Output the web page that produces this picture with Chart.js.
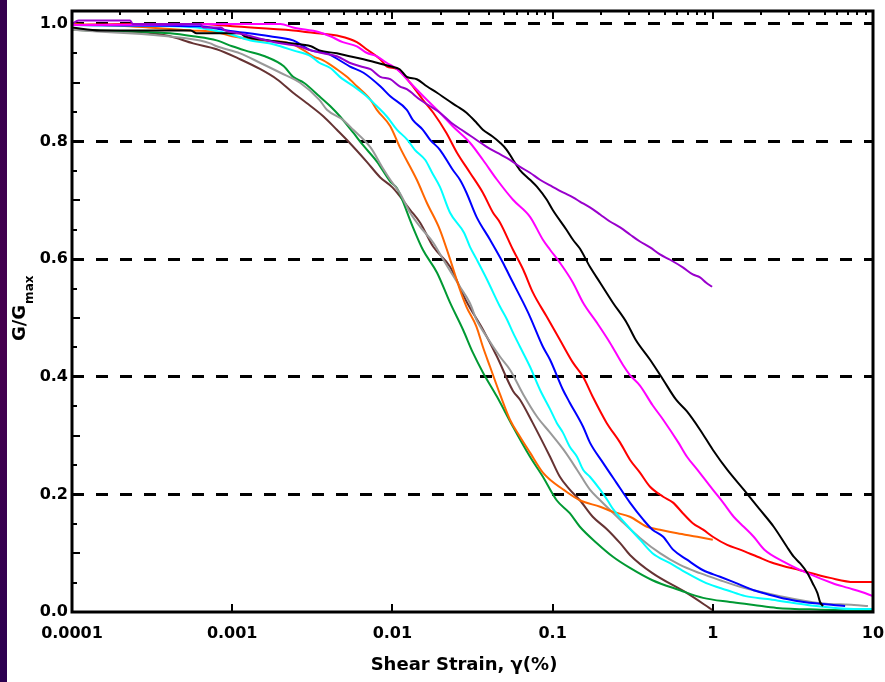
<!DOCTYPE html>
<html lang="pt-BR">
<head>
<meta charset="utf-8">
<title>G/Gmax x Shear Strain</title>
<script src="https://cdn.jsdelivr.net/npm/chart.js@4"></script>
<style>
    html, body { margin: 0; padding: 0; background: #ffffff; }
    #grafico { display: block; }
</style>
</head>
<body>
<canvas id="grafico" width="885" height="682"></canvas>
<script>
// Curvas: [deformação cisalhante (%), G/Gmax]
const curvaMarrom = [[0.0001,0.99],[0.0003,0.985],[0.00041,0.979],[0.00057,0.967],[0.0008,0.957],[0.00112,0.94],[0.0015,0.923],[0.0019,0.906],[0.0024,0.883],[0.0029,0.866],[0.0037,0.843],[0.0045,0.82],[0.0054,0.798],[0.0069,0.766],[0.0084,0.739],[0.01,0.722],[0.0129,0.684],[0.0149,0.662],[0.018,0.621],[0.0229,0.587],[0.029,0.528],[0.0368,0.48],[0.045,0.434],[0.0566,0.376],[0.0626,0.361],[0.075,0.322],[0.0964,0.264],[0.111,0.23],[0.128,0.208],[0.148,0.19],[0.178,0.162],[0.22,0.14],[0.264,0.117],[0.304,0.097],[0.42,0.066],[0.69,0.032],[1.0,0.003]];
const curvaVerde = [[0.0001,0.99],[0.00041,0.984],[0.00057,0.979],[0.0008,0.972],[0.001,0.962],[0.0012,0.955],[0.0016,0.945],[0.0021,0.928],[0.0024,0.91],[0.0028,0.9],[0.0035,0.877],[0.0041,0.86],[0.0047,0.843],[0.0057,0.815],[0.0065,0.795],[0.008,0.766],[0.0097,0.732],[0.0107,0.72],[0.0134,0.655],[0.0155,0.616],[0.019,0.577],[0.0229,0.526],[0.0276,0.48],[0.0318,0.441],[0.0368,0.407],[0.045,0.366],[0.0566,0.315],[0.0723,0.264],[0.087,0.23],[0.106,0.19],[0.128,0.168],[0.148,0.145],[0.189,0.117],[0.238,0.094],[0.304,0.075],[0.42,0.054],[0.624,0.037],[0.87,0.024],[1.28,0.017],[1.8,0.012],[2.5,0.007],[4.7,0.004],[10,0.002]];
const curvaCinza = [[0.0001,0.99],[0.00063,0.972],[0.00073,0.967],[0.0008,0.962],[0.00112,0.95],[0.00149,0.934],[0.002,0.917],[0.00265,0.9],[0.0035,0.871],[0.0039,0.854],[0.0049,0.837],[0.0057,0.82],[0.0073,0.79],[0.0087,0.755],[0.0097,0.735],[0.0111,0.713],[0.0129,0.679],[0.0149,0.655],[0.018,0.628],[0.0207,0.6],[0.0264,0.553],[0.0305,0.525],[0.0335,0.497],[0.0388,0.468],[0.047,0.434],[0.0542,0.412],[0.0656,0.37],[0.08,0.332],[0.0964,0.305],[0.117,0.276],[0.142,0.242],[0.171,0.208],[0.198,0.19],[0.264,0.157],[0.351,0.126],[0.468,0.1],[0.624,0.08],[0.832,0.066],[1.11,0.054],[1.48,0.043],[2.63,0.027],[4.67,0.015],[7.6,0.012],[9.3,0.01]];
const curvaLaranja = [[0.0001,1.0],[0.0002,0.997],[0.0003,0.994],[0.00055,0.989],[0.0008,0.986],[0.001,0.979],[0.0015,0.972],[0.0023,0.967],[0.0028,0.955],[0.0032,0.945],[0.0037,0.938],[0.0045,0.923],[0.0052,0.91],[0.006,0.894],[0.0073,0.871],[0.008,0.854],[0.0097,0.826],[0.0111,0.791],[0.0142,0.735],[0.0164,0.696],[0.0198,0.65],[0.0229,0.6],[0.0264,0.548],[0.029,0.519],[0.0335,0.485],[0.0367,0.451],[0.0407,0.417],[0.047,0.37],[0.0542,0.327],[0.0626,0.298],[0.0723,0.271],[0.087,0.237],[0.0964,0.225],[0.117,0.208],[0.148,0.19],[0.198,0.179],[0.24,0.17],[0.304,0.162],[0.388,0.145],[0.468,0.14],[0.6,0.134],[0.8,0.128],[1.0,0.123]];
const curvaCiano = [[0.0001,0.998],[0.00055,0.995],[0.0009,0.985],[0.0013,0.972],[0.0017,0.967],[0.002,0.962],[0.0024,0.955],[0.0031,0.945],[0.0035,0.934],[0.0041,0.925],[0.0047,0.91],[0.006,0.89],[0.0069,0.877],[0.008,0.86],[0.0092,0.843],[0.0107,0.82],[0.0124,0.803],[0.0138,0.786],[0.016,0.769],[0.0177,0.747],[0.0198,0.723],[0.0229,0.679],[0.028,0.645],[0.0305,0.621],[0.0335,0.6],[0.039,0.565],[0.047,0.519],[0.052,0.497],[0.0566,0.475],[0.0626,0.451],[0.0723,0.417],[0.0834,0.378],[0.0964,0.345],[0.106,0.322],[0.116,0.305],[0.128,0.281],[0.142,0.264],[0.155,0.242],[0.171,0.23],[0.198,0.208],[0.22,0.19],[0.24,0.174],[0.29,0.148],[0.351,0.123],[0.42,0.1],[0.541,0.083],[0.69,0.066],[0.91,0.049],[1.23,0.037],[1.6,0.027],[2.2,0.022],[2.9,0.017],[3.9,0.012],[7.6,0.005],[10,0.005]];
const curvaAzul = [[0.0001,0.998],[0.00063,0.996],[0.00093,0.989],[0.00172,0.979],[0.0024,0.972],[0.0031,0.955],[0.0039,0.95],[0.0054,0.928],[0.0066,0.917],[0.0084,0.894],[0.0097,0.877],[0.0123,0.854],[0.0134,0.837],[0.0155,0.82],[0.0172,0.803],[0.0198,0.786],[0.0238,0.752],[0.0264,0.735],[0.029,0.713],[0.0335,0.672],[0.0407,0.633],[0.049,0.594],[0.0542,0.57],[0.0656,0.526],[0.0723,0.502],[0.087,0.451],[0.0964,0.429],[0.116,0.378],[0.128,0.356],[0.155,0.315],[0.171,0.288],[0.206,0.254],[0.25,0.22],[0.304,0.186],[0.368,0.157],[0.42,0.14],[0.49,0.128],[0.565,0.106],[0.69,0.089],[0.87,0.071],[1.11,0.06],[1.4,0.049],[1.8,0.037],[2.28,0.029],[2.9,0.022],[3.7,0.017],[6.7,0.01]];
const curvaVermelha = [[0.0001,0.998],[0.00023,1.0],[0.00063,1.0],[0.001,0.996],[0.0024,0.989],[0.0034,0.984],[0.0047,0.979],[0.006,0.969],[0.0069,0.957],[0.0084,0.94],[0.0092,0.928],[0.0107,0.923],[0.0129,0.9],[0.0155,0.871],[0.018,0.849],[0.0217,0.815],[0.0253,0.781],[0.0305,0.747],[0.0367,0.713],[0.0425,0.679],[0.047,0.662],[0.0566,0.616],[0.0656,0.582],[0.0754,0.543],[0.092,0.502],[0.111,0.463],[0.134,0.424],[0.155,0.4],[0.178,0.366],[0.217,0.322],[0.264,0.288],[0.304,0.259],[0.351,0.237],[0.406,0.213],[0.49,0.196],[0.565,0.186],[0.65,0.168],[0.75,0.151],[0.87,0.14],[1.0,0.128],[1.23,0.114],[1.48,0.106],[1.9,0.094],[2.4,0.083],[3.5,0.071],[5.4,0.058],[7.6,0.051],[10,0.051]];
const curvaMagenta = [[0.0001,0.998],[0.001,1.0],[0.002,1.0],[0.0024,0.994],[0.0035,0.986],[0.0041,0.979],[0.0049,0.969],[0.006,0.962],[0.0069,0.951],[0.008,0.945],[0.0092,0.934],[0.0107,0.923],[0.0129,0.9],[0.0164,0.871],[0.0198,0.849],[0.0238,0.826],[0.0305,0.798],[0.0367,0.769],[0.045,0.735],[0.0566,0.701],[0.0723,0.672],[0.087,0.633],[0.0964,0.616],[0.111,0.594],[0.134,0.56],[0.155,0.526],[0.189,0.492],[0.228,0.458],[0.275,0.42],[0.304,0.403],[0.351,0.385],[0.42,0.352],[0.49,0.327],[0.61,0.288],[0.69,0.264],[0.8,0.242],[1.0,0.208],[1.16,0.186],[1.35,0.162],[1.56,0.145],[1.8,0.128],[2.1,0.106],[2.8,0.085],[3.9,0.066],[5.6,0.049],[7.0,0.041],[8.5,0.034],[10,0.027]];
const curvaPreta = [[0.0001,0.994],[0.00015,0.989],[0.00055,0.989],[0.0006,0.984],[0.00112,0.984],[0.0012,0.979],[0.0017,0.972],[0.0023,0.967],[0.0031,0.962],[0.0035,0.955],[0.0045,0.95],[0.0054,0.945],[0.0066,0.94],[0.008,0.934],[0.0097,0.928],[0.0111,0.923],[0.0123,0.91],[0.0142,0.906],[0.0164,0.894],[0.019,0.883],[0.022,0.871],[0.0253,0.86],[0.029,0.849],[0.0335,0.832],[0.0367,0.82],[0.042,0.809],[0.047,0.798],[0.0517,0.786],[0.0566,0.769],[0.0623,0.752],[0.0723,0.735],[0.08,0.723],[0.092,0.701],[0.1,0.684],[0.122,0.65],[0.134,0.633],[0.148,0.618],[0.171,0.587],[0.198,0.56],[0.238,0.526],[0.29,0.492],[0.33,0.463],[0.406,0.429],[0.49,0.395],[0.59,0.361],[0.69,0.341],[0.832,0.31],[1.0,0.276],[1.23,0.242],[1.56,0.208],[1.97,0.174],[2.4,0.145],[2.9,0.111],[3.2,0.094],[3.5,0.083],[3.9,0.066],[4.2,0.049],[4.5,0.032],[4.67,0.017],[4.87,0.01]];
const curvaRoxa = [[0.0001,1.0],[0.00011,1.006],[0.00023,1.006],[0.00024,1.0],[0.00063,1.0],[0.00066,0.994],[0.00085,0.994],[0.0009,0.989],[0.0011,0.984],[0.002,0.967],[0.0026,0.962],[0.0031,0.955],[0.0037,0.95],[0.0045,0.945],[0.0054,0.934],[0.0063,0.928],[0.0073,0.923],[0.0084,0.91],[0.0097,0.906],[0.0111,0.894],[0.0123,0.889],[0.0149,0.871],[0.0172,0.86],[0.0198,0.849],[0.0233,0.832],[0.027,0.82],[0.031,0.809],[0.0388,0.791],[0.045,0.781],[0.0542,0.769],[0.0626,0.757],[0.0723,0.747],[0.0834,0.735],[0.1,0.723],[0.117,0.713],[0.134,0.705],[0.148,0.698],[0.171,0.688],[0.198,0.676],[0.228,0.664],[0.264,0.654],[0.304,0.642],[0.351,0.63],[0.406,0.62],[0.468,0.608],[0.541,0.599],[0.65,0.586],[0.75,0.574],[0.832,0.569],[0.91,0.56],[0.99,0.553]];

const curvas = [curvaRoxa, curvaPreta, curvaMagenta, curvaVermelha, curvaAzul, curvaCiano, curvaLaranja, curvaCinza, curvaVerde, curvaMarrom];
const coresCurvas = ['#9900cc', '#000000', '#ff00ff', '#ff0000', '#0000ff', '#00ffff', '#ff6600', '#999999', '#009933', '#663333'];

// Eixos
const ticksX = [0.0001, 0.001, 0.01, 0.1, 1, 10];
const rotulosX = ['0.0001', '0.001', '0.01', '0.1', '1', '10'];
const ticksY = [0, 0.2, 0.4, 0.6, 0.8, 1.0];
const tituloX = 'Shear Strain, γ(%)';
const fonteEixo = { family: 'DejaVu Sans', size: 16, weight: 'bold' };

// Moldura, marcas internas e títulos dos eixos
const pluginMoldura = {
    id: 'moldura',
    beforeDraw(chart) {
        const ctx = chart.ctx;
        ctx.save();
        ctx.fillStyle = '#ffffff';
        ctx.fillRect(0, 0, chart.width, chart.height);
        const faixa = ctx.createLinearGradient(0, 0, 0, chart.height);
        faixa.addColorStop(0, '#34004e');
        faixa.addColorStop(0.5, '#46004f');
        faixa.addColorStop(1, '#2b0050');
        ctx.fillStyle = faixa;
        ctx.fillRect(0, 0, 7, chart.height);
        ctx.restore();
    },
    afterDraw(chart) {
        const { ctx, chartArea: a, scales: { x, y } } = chart;
        ctx.save();
        ctx.strokeStyle = '#000000';
        ctx.lineWidth = 3;
        ctx.strokeRect(a.left, a.top, a.right - a.left, a.bottom - a.top);

        ctx.lineWidth = 2;
        ctx.beginPath();
        // marcas do eixo Y a cada 0.05
        for (let i = 1; i <= 20; i++) {
            if (i % 4 === 0) continue;
            const py = Math.round(y.getPixelForValue(i * 0.05));
            const tam = i % 2 === 0 ? 8 : 5;
            ctx.moveTo(a.left, py);
            ctx.lineTo(a.left + tam, py);
        }
        // marcas logarítmicas no topo
        for (let k = -4; k <= 0; k++) {
            for (let m = 1; m <= 9; m++) {
                if (k === -4 && m === 1) continue;
                const px = Math.round(x.getPixelForValue(m * Math.pow(10, k)));
                const tam = m === 1 ? 8 : 4;
                ctx.moveTo(px, a.top);
                ctx.lineTo(px, a.top + tam);
            }
        }
        // marcas das décadas embaixo
        ticksX.slice(1, -1).forEach(v => {
            const px = Math.round(x.getPixelForValue(v));
            ctx.moveTo(px, a.bottom);
            ctx.lineTo(px, a.bottom - 8);
        });
        ctx.stroke();

        // título do eixo X
        ctx.fillStyle = '#000000';
        ctx.font = 'bold 18px "DejaVu Sans"';
        ctx.textAlign = 'center';
        ctx.textBaseline = 'middle';
        ctx.fillText(tituloX, 464, 665);

        // título do eixo Y: G/G com subscrito max
        ctx.translate(25, 341);
        ctx.rotate(-Math.PI / 2);
        ctx.textAlign = 'left';
        ctx.textBaseline = 'alphabetic';
        ctx.font = 'bold 18px "DejaVu Sans"';
        ctx.fillText('G/G', 0, 0);
        const larg = ctx.measureText('G/G').width;
        ctx.font = 'bold 12px "DejaVu Sans"';
        ctx.fillText('max', larg + 1, 8);
        ctx.restore();
    }
};

function criarGrafico() {
    const ctx = document.getElementById('grafico');

    return new Chart(ctx, {
        type: 'line',
        data: {
            datasets: curvas.map((pts, i) => ({
                data: pts.map(([sx, g]) => ({ x: sx, y: g })),
                borderColor: coresCurvas[i],
                borderWidth: 2,
                pointRadius: 0,
                fill: false,
                cubicInterpolationMode: 'monotone'
            }))
        },
        options: {
            responsive: false,
            animation: false,
            devicePixelRatio: 1,
            layout: { padding: { top: 11, right: 12, bottom: 0, left: 0 } },
            plugins: {
                legend: { display: false },
                tooltip: { enabled: false }
            },
            scales: {
                x: {
                    type: 'logarithmic',
                    min: 0.0001,
                    max: 10,
                    afterFit: s => { s.height = 70; },
                    afterBuildTicks: s => { s.ticks = ticksX.map(v => ({ value: v })); },
                    // o espaço até o rótulo vem do comprimento da marca (invisível)
                    grid: { display: false, drawTicks: true, tickLength: 12 },
                    border: { display: false },
                    ticks: {
                        autoSkip: false,
                        maxRotation: 0,
                        padding: 0,
                        color: '#000000',
                        font: fonteEixo,
                        callback: v => rotulosX[ticksX.indexOf(v)]
                    }
                },
                y: {
                    min: 0,
                    max: 1.022,
                    afterFit: s => { s.width = 72; },
                    afterBuildTicks: s => { s.ticks = ticksY.map(v => ({ value: v })); },
                    grid: {
                        drawTicks: true,
                        tickLength: 4,
                        tickColor: 'rgba(0,0,0,0)',
                        lineWidth: 3,
                        color: c => (c.tick && c.tick.value === 0) ? 'rgba(0,0,0,0)' : '#000000'
                    },
                    border: { display: false, dash: [12, 12] },
                    ticks: {
                        padding: 0,
                        color: '#000000',
                        font: fonteEixo,
                        callback: v => v.toFixed(1)
                    }
                }
            }
        },
        plugins: [pluginMoldura]
    });
}

const graficoModulo = criarGrafico();
</script>
</body>
</html>
